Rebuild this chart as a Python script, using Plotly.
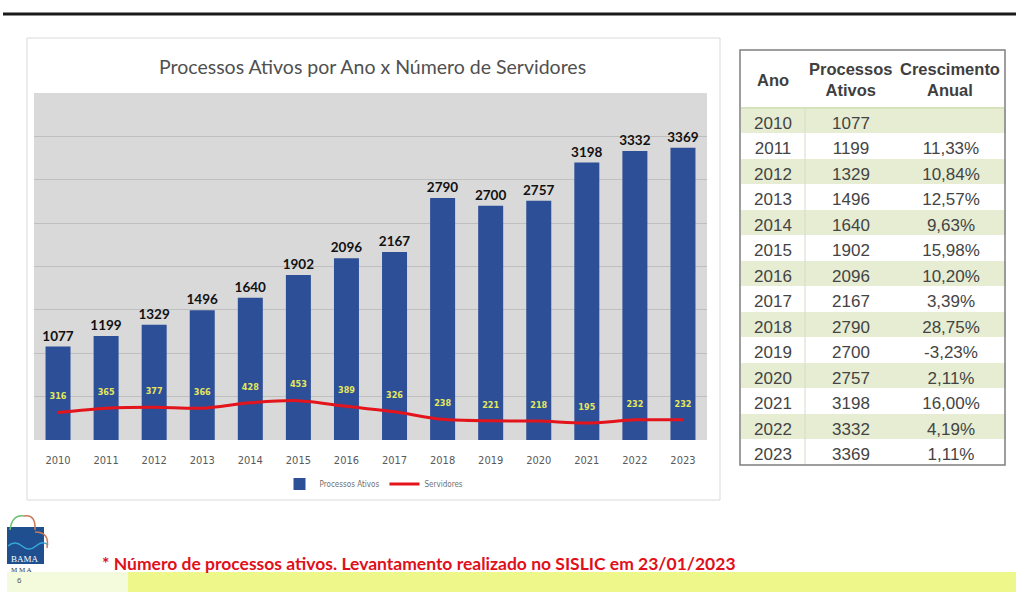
import plotly.graph_objects as go

W, H = 1016, 592
def fx(x): return x / W
def fy(y): return 1 - y / H

# ---- data ----
anos = ["2010", "2011", "2012", "2013", "2014", "2015", "2016",
        "2017", "2018", "2019", "2020", "2021", "2022", "2023"]
processos = [1077, 1199, 1329, 1496, 1640, 1902, 2096, 2167, 2790, 2700, 2757, 3198, 3332, 3369]
servidores = [316, 365, 377, 366, 428, 453, 389, 326, 238, 221, 218, 195, 232, 232]
crescimento = ["", "11,33%", "10,84%", "12,57%", "9,63%", "15,98%", "10,20%",
               "3,39%", "28,75%", "-3,23%", "2,11%", "16,00%", "4,19%", "1,11%"]
cabecalho = ["Ano", "Processos<br>Ativos", "Crescimento<br>Anual"]

NARROW = "Liberation Sans Narrow, DejaVu Sans Condensed, Arial Narrow, Roboto, sans-serif"
ARIAL = "Liberation Sans, Arial, sans-serif"
CAL = "Lato, Open Sans, sans-serif"

fig = go.Figure()

fig.add_trace(go.Bar(
    x=anos, y=processos, name="Processos Ativos",
    marker=dict(color="#2d4f97", line=dict(width=0)),
    width=0.52,
    text=["<b>%d</b>" % v for v in processos], textposition="outside",
    textfont=dict(family=CAL, size=13.5, color="#111111"),
    constraintext="none",
    cliponaxis=False,
))

fig.add_trace(go.Scatter(
    x=anos, y=servidores, name="Servidores",
    mode="lines",
    line=dict(color="#e3141c", width=3, shape="spline", smoothing=0.8),
))

fig.add_trace(go.Scatter(
    x=anos, y=servidores, showlegend=False, hoverinfo="skip",
    mode="markers+text",
    marker=dict(size=16, opacity=0),
    text=["<b>%d</b>" % v for v in servidores], textposition="top center",
    textfont=dict(family=NARROW, size=9, color="#e6e85a"),
    cliponaxis=False,
))

# ---- table ----
row_fill = ["#e6edd3" if i % 2 == 0 else "#ffffff" for i in range(len(anos))]
fig.add_trace(go.Table(
    domain=dict(x=[fx(741), fx(1005)], y=[fy(470), fy(51)]),
    columnwidth=[64, 92, 108],
    header=dict(
        values=["", "", ""],
        fill_color="#ffffff",
        line=dict(color="#ffffff", width=1),
        font=dict(family=ARIAL, size=16, color="#3f3f3f"),
        align="center", height=57,
    ),
    cells=dict(
        values=[anos, [str(v) for v in processos], crescimento],
        fill_color=[row_fill, row_fill, row_fill],
        line=dict(color=[row_fill, row_fill, row_fill], width=1),
        font=dict(family=ARIAL, size=17, color="#444444"),
        align="center", height=25.5,
    ),
))

shapes = [
    dict(type="line", xref="paper", yref="paper", x0=fx(3), x1=fx(1016), y0=fy(14), y1=fy(14),
         line=dict(color="#1a1a1a", width=3)),
    dict(type="rect", xref="paper", yref="paper", x0=fx(27), x1=fx(720), y0=fy(500), y1=fy(38),
         line=dict(color="#d9d9d9", width=1), fillcolor="rgba(0,0,0,0)", layer="below"),
    dict(type="rect", xref="paper", yref="paper", x0=fx(740), x1=fx(1005), y0=fy(465), y1=fy(50),
         line=dict(color="#7f7f7f", width=1.5), fillcolor="rgba(0,0,0,0)"),
    dict(type="line", xref="paper", yref="paper", x0=fx(741), x1=fx(1004), y0=fy(108), y1=fy(108),
         line=dict(color="#c9d9a4", width=1.5)),
    dict(type="line", xref="paper", yref="paper", x0=fx(805), x1=fx(805), y0=fy(464), y1=fy(108),
         line=dict(color="#d6dcc8", width=1)),
    dict(type="rect", xref="paper", yref="paper", x0=fx(7), x1=fx(128), y0=0, y1=fy(572),
         line=dict(width=0), fillcolor="#f4fadc", layer="below"),
    dict(type="rect", xref="paper", yref="paper", x0=fx(128), x1=1, y0=0, y1=fy(572),
         line=dict(width=0), fillcolor="#edf78a", layer="below"),
    dict(type="rect", xref="paper", yref="paper", x0=fx(7), x1=fx(44), y0=fy(564), y1=fy(527),
         line=dict(width=0), fillcolor="#1f4f8f"),
    dict(type="path", xref="paper", yref="paper",
         path=f"M {fx(8)},{fy(546)} Q {fx(15)},{fy(540)} {fx(22)},{fy(546)} T {fx(36)},{fy(546)} T {fx(48)},{fy(545)}",
         line=dict(color="#35a7d8", width=1.5)),
    dict(type="path", xref="paper", yref="paper",
         path=f"M {fx(10)},{fy(530)} Q {fx(12)},{fy(514)} {fx(24)},{fy(516)}",
         line=dict(color="#6fbf73", width=1.5)),
    dict(type="path", xref="paper", yref="paper",
         path=f"M {fx(24)},{fy(516)} Q {fx(36)},{fy(514)} {fx(35)},{fy(530)}",
         line=dict(color="#c87a5a", width=1.5)),
    dict(type="path", xref="paper", yref="paper",
         path=f"M {fx(35)},{fy(532)} Q {fx(50)},{fy(532)} {fx(47)},{fy(548)}",
         line=dict(color="#c87a5a", width=1.5)),
]

annotations = [
    dict(text="Processos Ativos por Ano x Número de Servidores", x=fx(372), y=fy(66),
         xref="paper", yref="paper", showarrow=False, xanchor="center", yanchor="middle",
         font=dict(family=CAL, size=19.5, color="#505050")),
    dict(text="<b>* Número de processos ativos. Levantamento realizado no SISLIC em 23/01/2023</b>",
         x=fx(100), y=fy(563), xref="paper", yref="paper", showarrow=False,
         xanchor="left", yanchor="middle",
         font=dict(family=CAL, size=17.5, color="#e0101a")),
    dict(text="BAMA", x=fx(25), y=fy(559), xref="paper", yref="paper", showarrow=False,
         xanchor="center", yanchor="middle",
         font=dict(family="Liberation Serif, serif", size=9, color="#ffffff")),
    dict(text="M M A", x=fx(21), y=fy(570), xref="paper", yref="paper", showarrow=False,
         xanchor="center", yanchor="middle",
         font=dict(family="Liberation Serif, serif", size=7, color="#333333")),
    dict(text="6", x=fx(19), y=fy(580), xref="paper", yref="paper", showarrow=False,
         xanchor="center", yanchor="middle",
         font=dict(family=ARIAL, size=8, color="#555555")),
]

head_x = [773, 850, 950]
for hx, ht in zip(head_x, cabecalho):
    annotations.append(dict(text="<b>%s</b>" % ht, x=fx(hx), y=fy(80), xref="paper", yref="paper",
                            showarrow=False, xanchor="center", yanchor="middle", align="center",
                            font=dict(family=ARIAL, size=16.5, color="#3f3f3f")))

fig.update_layout(
    width=W, height=H,
    margin=dict(l=0, r=0, t=0, b=0),
    paper_bgcolor="#ffffff",
    plot_bgcolor="#d9d9d9",
    showlegend=True,
    legend=dict(orientation="h", x=fx(374), y=fy(484), xanchor="center", yanchor="middle",
                font=dict(family=NARROW, size=8, color="#707070"),
                itemwidth=30, bgcolor="rgba(0,0,0,0)", tracegroupgap=0),
    xaxis=dict(domain=[fx(34), fx(707)], type="category", range=[-0.5, len(anos) - 0.5],
               tickfont=dict(family=NARROW, size=11, color="#595959"),
               ticklabelstandoff=12,
               showgrid=False, zeroline=False, showline=False, ticks="", ticklen=0),
    yaxis=dict(domain=[fy(440), fy(93)], range=[0, 4000], dtick=500,
               showticklabels=False, showgrid=True, gridcolor="#bfbfbf", gridwidth=1,
               zeroline=False, showline=False),
    bargap=0.48,
    shapes=shapes,
    annotations=annotations,
)

fig.write_html("out.html")
